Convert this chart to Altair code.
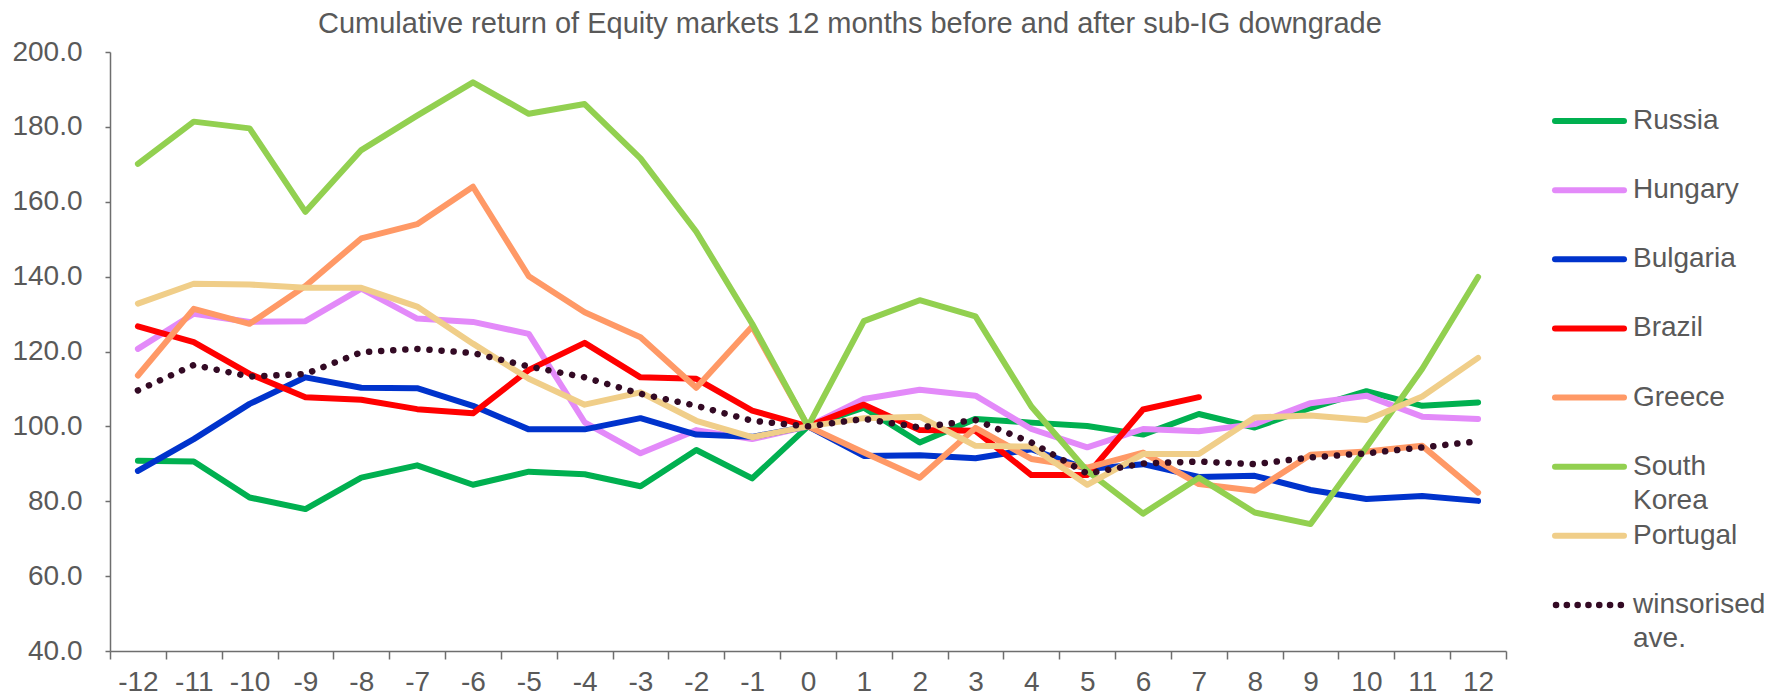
import altair as alt
import pandas as pd

months = list(range(-12, 13))

russia = [90.8, 90.6, 81.0, 77.9, 86.3, 89.6, 84.4, 87.9, 87.2, 84.0, 93.7, 86.1, 100.0,
          105.0, 95.7, 102.0, 101.0, 100.1, 97.8, 103.3, 99.7, 104.9, 109.4, 105.5, 106.4]
hungary = [120.7, 130.1, 127.9, 128.1, 136.8, 128.8, 127.9, 124.7, 101.1, 92.8, 99.0, 96.6, 100.0,
           107.3, 109.8, 108.2, 99.3, 94.4, 99.3, 98.7, 100.6, 106.2, 108.2, 102.6, 102.0]
bulgaria = [88.1, 96.6, 106.0, 113.1, 110.3, 110.2, 105.5, 99.2, 99.2, 102.2, 97.8, 97.2, 100.0,
            92.1, 92.3, 91.5, 93.9, 88.6, 89.9, 86.5, 86.8, 83.0, 80.6, 81.4, 80.1]
brazil = [126.7, 122.5, 114.0, 107.8, 107.1, 104.6, 103.5, 115.1, 122.3, 113.1, 112.7, 104.2, 100.0,
          105.8, 99.0, 98.8, 87.0, 87.0, 104.5, 107.8]
greece = [113.6, 131.4, 127.4, 137.5, 150.2, 154.0, 164.0, 140.1, 130.5, 123.8, 110.3, 126.7, 100.0,
          93.0, 86.3, 99.6, 91.3, 89.0, 93.0, 84.6, 82.8, 92.4, 93.3, 94.8, 82.3]
south_korea = [170.1, 181.4, 179.6, 157.3, 173.8, 183.0, 191.9, 183.5, 186.1, 171.6, 152.0, 127.4, 100.0,
               128.1, 133.7, 129.4, 105.3, 88.1, 76.7, 86.3, 77.0, 73.9, 94.4, 115.4, 139.9]
portugal = [132.8, 138.1, 137.9, 137.0, 137.0, 132.0, 122.1, 112.7, 105.8, 109.1, 101.5, 97.1, 100.0,
            102.2, 102.6, 94.8, 94.6, 84.4, 92.6, 92.6, 102.4, 102.9, 101.7, 108.0, 118.3]
winsorised = [109.6, 116.4, 113.3, 114.0, 119.8, 120.7, 119.6, 116.0, 113.1, 108.7, 105.5, 101.5, 100.0,
              102.0, 99.7, 101.7, 95.7, 87.4, 90.1, 90.6, 89.9, 91.7, 92.8, 94.4, 96.0]

series_names = ["Russia", "Hungary", "Bulgaria", "Brazil", "Greece", "South Korea", "Portugal"]
series_values = [russia, hungary, bulgaria, brazil, greece, south_korea, portugal]
series_colors = ["#00B050", "#E38AF9", "#0033CC", "#FF0000", "#FF9966", "#92D050", "#F0CE89"]
avg_name = "winsorised ave."
avg_color = "#330A24"
legend_labels = ["Russia", "Hungary", "Bulgaria", "Brazil", "Greece", "South\nKorea", "Portugal",
                 "winsorised\nave."]
y_ticks = [40, 60, 80, 100, 120, 140, 160, 180, 200]
title_text = "Cumulative return of Equity markets 12 months before and after sub-IG downgrade"

rows = []
for name, vals in zip(series_names, series_values):
    for m, v in zip(months, vals):
        rows.append({"month": m, "series": name, "value": v})
df = pd.DataFrame(rows)
avg_df = pd.DataFrame({"month": months[:len(winsorised)], "value": winsorised})
legend_names = series_names + [avg_name]
legend_df = pd.DataFrame({"series": legend_names, "label": legend_labels})
title_df = pd.DataFrame({"title": [title_text]})

FONT = "Liberation Sans"
GREY = "#595959"
AXIS = "#6E6E6E"
W, H = 1396, 599

x_enc = alt.X(
    "month:O", sort=months,
    scale=alt.Scale(type="band", paddingInner=0, paddingOuter=0),
    bandPosition=0.5,
    axis=alt.Axis(title=None, tickBand="extent", labelAngle=0, labelFont=FONT, labelFontSize=28,
                  labelColor=GREY, domainColor=AXIS, domainWidth=1.5, tickColor=AXIS, tickWidth=1.5,
                  tickSize=8, labelPadding=31, labelBaseline="alphabetic", grid=False),
)
y_scale = alt.Scale(domain=[40, 200], nice=False, zero=False)
y_enc = alt.Y(
    "value:Q", scale=y_scale,
    axis=alt.Axis(title=None, values=y_ticks, format=".1f", grid=False, labelFont=FONT,
                  labelFontSize=28, labelColor=GREY, domainColor=AXIS, domainWidth=1.5,
                  tickColor=AXIS, tickWidth=1.5, tickSize=5, labelPadding=23),
)
color_scale = alt.Scale(domain=series_names, range=series_colors)

lines = alt.Chart(df).mark_line(strokeWidth=6, strokeJoin="round", strokeCap="round").encode(
    x=x_enc, y=y_enc, color=alt.Color("series:N", scale=color_scale, legend=None)
)
avg_line = alt.Chart(avg_df).mark_line(
    color=avg_color, strokeWidth=6.5, strokeDash=[0.1, 12], strokeCap="round", strokeJoin="round"
).encode(x=x_enc, y=y_enc)

ly = alt.Y("series:N", scale=alt.Scale(type="point", domain=legend_names, range=[69, 553], padding=0),
           axis=None)
leg_rules = alt.Chart(legend_df.iloc[:7]).mark_rule(strokeWidth=6, strokeCap="round").encode(
    x=alt.value(1445), x2=alt.value(1514), y=ly,
    color=alt.Color("series:N", scale=color_scale, legend=None),
)
leg_avg = alt.Chart(legend_df.iloc[7:]).mark_rule(
    strokeWidth=6.5, strokeCap="round", strokeDash=[0.1, 10.7], color=avg_color
).encode(x=alt.value(1446), x2=alt.value(1512), y=ly)
leg_text = alt.Chart(legend_df).mark_text(
    align="left", baseline="middle", fontSize=28, font=FONT, color=GREY, lineBreak="\n", lineHeight=34
).encode(x=alt.value(1523), y=ly, text="label:N")

title_mark = alt.Chart(title_df).mark_text(
    align="left", baseline="alphabetic", fontSize=29, font=FONT, color=GREY
).encode(x=alt.value(208), y=alt.value(-19), text="title:N")

chart = alt.layer(
    alt.layer(lines, avg_line),
    alt.layer(leg_rules, leg_avg, leg_text, title_mark),
).resolve_scale(y="independent").properties(
    width=W, height=H,
    padding={"left": 102, "top": 44, "right": 258, "bottom": 47},
    autosize=alt.AutoSizeParams(type="none"),
    background="white",
).configure_view(stroke=None)

chart.save("out.html", embed_options={"renderer": "svg", "actions": False})
